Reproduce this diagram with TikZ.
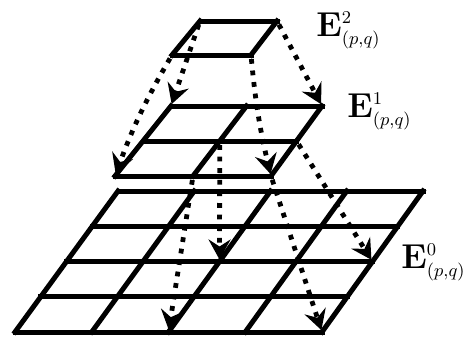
\documentclass[tikz,border=0pt]{standalone}
\usepackage{amsmath}
\usepackage{tikz}
\usetikzlibrary{arrows.meta,calc}
\DeclareMathSizes{16}{16}{9.5}{7}

\begin{document}
\begin{tikzpicture}[
   x=0.5pt, y=-0.5pt,
   gridline/.style={line width=2.5pt, line cap=rect},
   arrow/.style={-{Stealth[length=10pt, width=11pt, inset=3.5pt]}, line width=2.4pt,
      dash pattern=on 2.4pt off 3.4pt, shorten <=2pt, shorten >=1pt},
   elab/.style={anchor=base west, inner sep=0pt,
      font=\fontsize{16}{19}\selectfont}
]
\useasboundingbox (0,0) rectangle (465,337);
% corners of the three levels
\coordinate (E2-tl) at (200,21);
\coordinate (E2-tr) at (277,21);
\coordinate (E2-bl) at (172,55);
\coordinate (E2-br) at (251,55);
\coordinate (E1-tl) at (171,106);
\coordinate (E1-tr) at (322,106);
\coordinate (E1-bl) at (115,176);
\coordinate (E1-br) at (271,176);
\coordinate (E0-tl) at (118,191);
\coordinate (E0-tr) at (423,191);
\coordinate (E0-bl) at (15,332);
\coordinate (E0-br) at (322,332);

% grid lines and grid points
\foreach \lv/\n in {2/1,1/2,0/4} {
   \foreach \k in {0,...,\n} {
      \draw[gridline] ($(E\lv-tl)!\k/\n!(E\lv-tr)$) -- ($(E\lv-bl)!\k/\n!(E\lv-br)$);
      \draw[gridline] ($(E\lv-tl)!\k/\n!(E\lv-bl)$) -- ($(E\lv-tr)!\k/\n!(E\lv-br)$);
   }
   \foreach \i in {0,...,\n} {
      \foreach \j in {0,...,\n} {
         \coordinate (E\lv-\i-\j) at
            ($($(E\lv-tl)!\j/\n!(E\lv-bl)$)!\i/\n!($(E\lv-tr)!\j/\n!(E\lv-br)$)$);
      }
   }
}

\node[elab] (L2) at (316,36) {$\mathbf{E}^{2}_{(p,q)}$};
\node[elab] (L1) at (347,117) {$\mathbf{E}^{1}_{(p,q)}$};
\node[elab] (L0) at (401,268) {$\mathbf{E}^{0}_{(p,q)}$};

\draw[arrow] (E2-0-0) -- (E1-0-0);
\draw[arrow] (E2-0-1) to[bend right=5] (E1-0-2);
\draw[arrow] (E2-1-1) to[bend right=4] (E1-2-2);
\draw[arrow] (E2-1-0) -- (E1-2-0);
\draw[arrow] (E1-1-2) -- (E0-2-4);
\draw[arrow] (E1-1-1) -- (E0-2-2);
\draw[arrow] (E1-2-2) -- (E0-4-4);
\draw[arrow] (E1-2-1) -- (E0-4-2);
\end{tikzpicture}
\end{document}
